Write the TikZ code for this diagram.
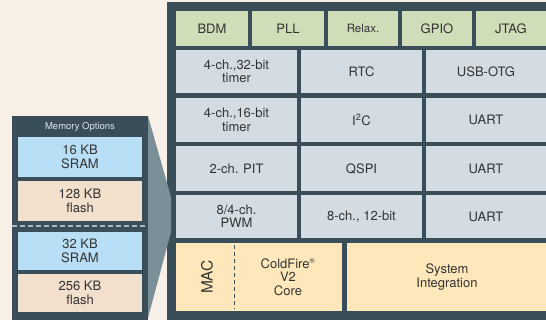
\documentclass[tikz,border=0pt]{standalone}
\usepackage{fontspec}
\setmainfont{TeX Gyre Heros}
\usetikzlibrary{positioning}

\definecolor{bgbeige}{HTML}{F8F0E7}
\definecolor{slate}{HTML}{3A4E5A}
\definecolor{wedgegray}{HTML}{7B8F99}
\definecolor{ipgreen}{HTML}{CFDDB9}
\definecolor{ipgray}{HTML}{D3DCE2}
\definecolor{coreyellow}{HTML}{FEE8BB}
\definecolor{sramblue}{HTML}{B9DFF6}
\definecolor{flashpeach}{HTML}{F2DFCC}
\definecolor{txtgray}{HTML}{333333}
\definecolor{titlegray}{HTML}{DCE2E6}
\definecolor{dashgray}{HTML}{AEBBC2}

\begin{document}
\begin{tikzpicture}[x=1pt, y=-1pt,
    cell/.style={inner sep=0pt, outer sep=0pt, align=center, anchor=north west,
        text=txtgray, font=\fontsize{13}{13.5}\selectfont},
    toprow/.style={cell, fill=ipgreen, minimum height=35pt},
    ipblock/.style={cell, fill=ipgray},
    coreblock/.style={cell, fill=coreyellow, minimum height=68pt},
    sram/.style={cell, fill=sramblue, minimum width=124pt},
    flash/.style={cell, fill=flashpeach, minimum width=124pt}]

    % Background and frames

    \useasboundingbox[fill=bgbeige] (0,0) rectangle (546,320);
    \fill[slate] (167,2) rectangle (546,320);
    \fill[wedgegray] (148,116) -- (171,197) -- (171,232) -- (148,318) -- cycle;
    \fill[slate] (12,116) rectangle (148,320);

    % Memory options

    \node[text=titlegray, font=\fontsize{9.5}{11}\selectfont] (memtitle) at (80,127) {Memory Options}; %
    \node[sram, minimum height=40pt]  (sram16)   at (18,137) {16 KB\\SRAM}; %
    \node[flash, minimum height=40pt] (flash128) at (18,181) {128 KB\\flash}; %
    \node[sram, minimum height=38pt]  (sram32)   at (18,232) {32 KB\\SRAM}; %
    \node[flash, minimum height=38pt] (flash256) at (18,274) {256 KB\\flash}; %
    \draw[dashgray, line width=2pt, dash pattern=on 5pt off 3pt]
        (flash128.south west -| 12,0) ++(0,5) -- ++(136,0);

    % Peripherals

    \node[toprow, minimum width=72pt] (bdm)   at (176,11) {BDM}; %
    \node[toprow, minimum width=72pt, right=4pt of bdm, anchor=west]   (pll)   {PLL}; %
    \node[toprow, minimum width=70pt, right=4pt of pll, anchor=west]   (relax) {\fontsize{11.5}{13}\selectfont Relax.}; %
    \node[toprow, minimum width=70pt, right=4pt of relax, anchor=west] (gpio)  {GPIO}; %
    \node[toprow, minimum width=70pt, right=4pt of gpio, anchor=west]  (jtag)  {JTAG}; %

    \node[ipblock, minimum width=121pt, minimum height=43pt] (tmra) at (176,50) {4-ch.,32-bit\\timer}; %
    \node[ipblock, minimum width=121pt, minimum height=43pt, right=4pt of tmra, anchor=west] (rtc) {RTC}; %
    \node[ipblock, minimum width=120pt, minimum height=43pt, right=4pt of rtc, anchor=west]  (usb) {USB-OTG}; %

    \node[ipblock, minimum width=121pt, minimum height=44pt] (tmrb) at (176,98) {4-ch.,16-bit\\timer}; %
    \node[ipblock, minimum width=121pt, minimum height=44pt, right=4pt of tmrb, anchor=west] (iic)   {I\textsuperscript{2}C}; %
    \node[ipblock, minimum width=120pt, minimum height=44pt, right=4pt of iic, anchor=west]  (uarta) {UART}; %

    \node[ipblock, minimum width=121pt, minimum height=45pt] (pit) at (176,146) {2-ch. PIT}; %
    \node[ipblock, minimum width=121pt, minimum height=45pt, right=4pt of pit, anchor=west]  (qspi)  {QSPI}; %
    \node[ipblock, minimum width=120pt, minimum height=45pt, right=4pt of qspi, anchor=west] (uartb) {UART}; %

    \node[ipblock, minimum width=121pt, minimum height=43pt] (pwm) at (176,195) {8/4-ch.\\PWM}; %
    \node[ipblock, minimum width=121pt, minimum height=43pt, right=4pt of pwm, anchor=west] (adc)   {8-ch., 12-bit}; %
    \node[ipblock, minimum width=120pt, minimum height=43pt, right=4pt of adc, anchor=west] (uartc) {UART}; %

    % Core

    \node[coreblock, minimum width=166pt] (core) at (176,243) {}; %
    \node[coreblock, minimum width=200pt, right=5pt of core, anchor=west] (sysint) {System\\Integration}; %
    \node[text=txtgray, font=\fontsize{15.5}{16}\selectfont, rotate=90] (mac) at (207,277) {MAC}; %
    \node[text=txtgray, font=\fontsize{13}{13.7}\selectfont, align=center] (cf) at (288,277)
        {ColdFire\textsuperscript{\fontsize{7}{7}\selectfont\textregistered}\\V2\\Core}; %
    \draw[slate, line width=0.9pt, dash pattern=on 4pt off 3pt]
        ([xshift=58pt, yshift=-2pt]core.north west) -- ([xshift=58pt, yshift=2pt]core.south west);

\end{tikzpicture}
\end{document}
